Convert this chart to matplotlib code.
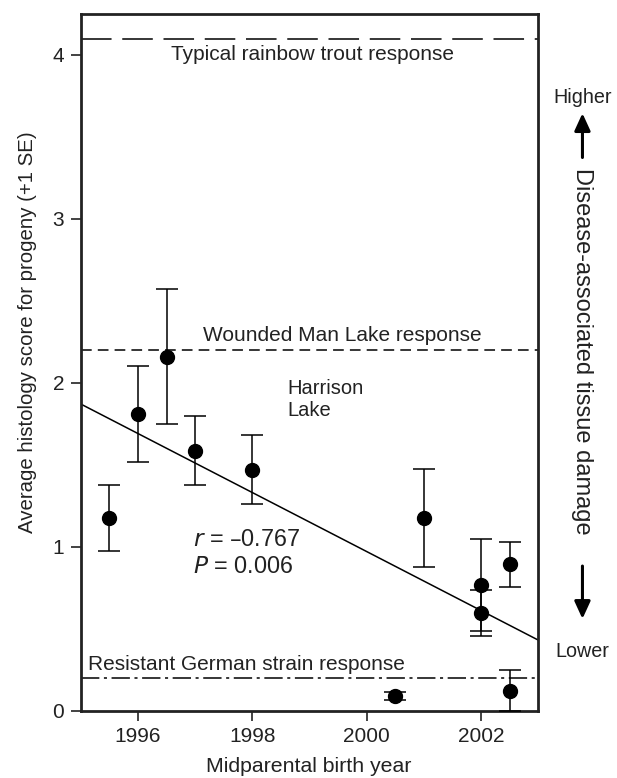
import numpy as np
import matplotlib
matplotlib.use("Agg")
import matplotlib.pyplot as plt
from matplotlib.patches import FancyArrowPatch

plt.rcParams['font.family'] = ['Liberation Sans', 'DejaVu Sans']

# Midparental birth year, progeny histology score, and SE
years = [1995.5, 1996.0, 1996.5, 1997.0, 1998.0, 2000.5, 2001.0, 2002.0, 2002.0, 2002.5, 2002.5]
scores = [1.175, 1.81, 2.16, 1.587, 1.47, 0.091, 1.175, 0.768, 0.596, 0.894, 0.122]
se = [0.20, 0.29, 0.41, 0.21, 0.21, 0.025, 0.30, 0.28, 0.143, 0.137, 0.125]

# Reference responses
rainbow_level = 4.10
wounded_level = 2.20
german_level = 0.20

TXT = '#222222'

fig = plt.figure(figsize=(6.17, 7.78), dpi=100)
ax = fig.add_axes([0.1308, 0.0865, 0.7417, 0.8955])

# error bars (+/- 1 SE) and points
ax.errorbar(years, scores, yerr=se, fmt='o', color='black', ms=10,
            ecolor='black', elinewidth=1.1, capsize=8, capthick=1.1, zorder=3)

# regression line through all points
slope, intercept = np.polyfit(years, scores, 1)
xl = np.array([1995, 2003])
ax.plot(xl, slope * xl + intercept, color='black', lw=1.1)

# reference lines
ax.axhline(rainbow_level, color='black', lw=1.1, ls=(0, (20, 7)))
ax.axhline(wounded_level, color='black', lw=1.1, ls=(0, (7, 4)))
ax.axhline(german_level, color='black', lw=1.1, ls=(0, (12, 3, 2, 3)))

ax.text(1999.06, 4.0, 'Typical rainbow trout response', ha='center', va='center', fontsize=15, color=TXT)
ax.text(1997.14, 2.29, 'Wounded Man Lake response', ha='left', va='center', fontsize=15, color=TXT)
ax.text(1995.13, 0.28, 'Resistant German strain response', ha='left', va='center', fontsize=15, color=TXT)
ax.text(1998.62, 1.90, 'Harrison\nLake', ha='left', va='center', fontsize=14.5, color=TXT,
        linespacing=1.2)
ax.text(1996.96, 1.047, r'$\it{r}$ = –0.767', ha='left', va='center', fontsize=16.8, color=TXT)
ax.text(1996.96, 0.877, r'$\it{P}$ = 0.006', ha='left', va='center', fontsize=16.8, color=TXT)

ax.set_xlim(1995, 2003)
ax.set_ylim(0, 4.25)
ax.set_xticks([1996, 1998, 2000, 2002])
ax.set_yticks([0, 1, 2, 3, 4])
ax.tick_params(direction='out', length=7, width=1.2, labelsize=15, colors=TXT, pad=5)
for s in ax.spines.values():
    s.set_linewidth(2)
    s.set_color(TXT)

ax.set_xlabel('Midparental birth year', fontsize=15.3, color=TXT)
ax.set_ylabel('Average histology score for progeny (+1 SE)', fontsize=14.7, color=TXT)
ax.xaxis.set_label_coords(0.499, -0.066)
ax.yaxis.set_label_coords(-0.0955, 0.544)

# right-hand annotation
fig.text(0.944, 0.875, 'Higher', ha='center', va='center', fontsize=14.2, color=TXT)
fig.text(0.944, 0.163, 'Lower', ha='center', va='center', fontsize=14.2, color=TXT)
fig.text(0.943, 0.548, 'Disease-associated tissue damage', ha='center', va='center',
         rotation=-90, fontsize=17, color=TXT)
for y0, y1 in [(0.794, 0.858), (0.276, 0.201)]:
    fig.patches.append(FancyArrowPatch((0.944, y0), (0.944, y1), transform=fig.transFigure,
                                       arrowstyle='-|>,head_length=7,head_width=3.2',
                                       color='black', lw=2.2, mutation_scale=1.5))

fig.savefig('out.png', dpi=100)
